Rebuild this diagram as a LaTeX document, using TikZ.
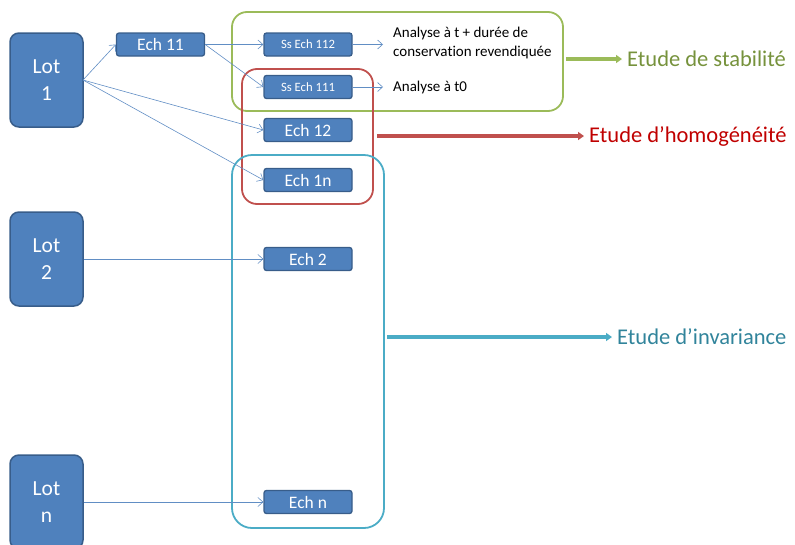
\documentclass[tikz,border=0pt]{standalone}
\usepackage{fontspec}
\setmainfont{Carlito}[Ligatures=NoCommon]
\usetikzlibrary{arrows.meta,shadows}
\definecolor{nodefill}{HTML}{4F81BD}
\definecolor{nodeborder}{HTML}{385D8A}
\definecolor{grn}{HTML}{9BBB59}
\definecolor{grntxt}{HTML}{76923C}
\definecolor{rd}{HTML}{C0504D}
\definecolor{rdtxt}{HTML}{C00000}
\definecolor{cy}{HTML}{4BACC6}
\definecolor{cytxt}{HTML}{31849B}
\tikzset{
  lotbox/.style={draw=nodeborder,line width=1.5pt,fill=nodefill,rounded corners=9pt,
    minimum width=73pt,minimum height=94pt,text=white,align=center,
    font=\fontsize{21.5}{27}\selectfont,inner sep=0pt},
  echbox/.style={draw=nodeborder,line width=1.3pt,fill=nodefill,rounded corners=2.5pt,
    minimum width=88pt,minimum height=23pt,text=white,inner sep=0pt,
    font=\fontsize{17.5}{18}\selectfont},
  ssbox/.style={echbox,font=\fontsize{12.7}{13}\selectfont},
  link/.style={draw=nodefill!90!white,line width=0.6pt,-{Straight Barb[length=5pt,width=9pt]}},
  note/.style={anchor=west,align=left,inner sep=0pt,font=\fontsize{15}{19}\selectfont},
  group/.style={line width=1.8pt,rounded corners=15pt},
  bigarrow/.style={line width=3.5pt,-{Triangle[length=6pt,width=8pt]},
    drop shadow={shadow xshift=0.8pt,shadow yshift=-1pt,opacity=0.25}},
  label/.style={anchor=west,inner sep=0pt,font=\fontsize{22.5}{24}\selectfont}
}
\begin{document}
\begin{tikzpicture}[x=1pt,y=-1pt]
\useasboundingbox (0,0) rectangle (795,544);
\begin{scope}
\clip (0,0) rectangle (795,544);
% groups
\draw[group,draw=grn] (232,12) rectangle (563,111);
\draw[group,draw=rd] (242,69) rectangle (373,204);
\draw[group,draw=cy,rounded corners=20pt] (232,155) rectangle (384,528);
% lots
\node[lotbox] (lot1) at (46.5,80) {Lot\\1};
\node[lotbox] (lot2) at (46.5,259) {Lot\\2};
\node[lotbox] (lotn) at (46.5,502) {Lot\\n};
\end{scope}
% echantillons
\node[echbox] (e11) at (160.5,44.5) {Ech 11};
\node[ssbox] (s112) at (308,44.5) {Ss Ech 112};
\node[ssbox] (s111) at (308,87) {Ss Ech 111};
\node[echbox] (e12) at (308,130) {Ech 12};
\node[echbox] (e1n) at (308,180) {Ech 1n};
\node[echbox] (e2) at (308,259) {Ech 2};
\node[echbox] (en) at (308,502) {Ech n};
% notes
\node[note] (n112) at (393,43) {Analyse à t + durée de\\conservation revendiquée};
\node[note] (n111) at (393,87) {Analyse à t0};
% links
\coordinate (l1) at (83,80);
\coordinate (t112) at (383,44.5);
\coordinate (t111) at (383,87);
\draw[link] (l1) -- (e11.west);
\draw[link] (l1) -- (e12.west);
\draw[link] (l1) -- (e1n.west);
\draw[link] (e11.east) -- (s112.west);
\draw[link] (e11.east) -- (s111.west);
\draw[link] (s112.east) -- (t112);
\draw[link] (s111.east) -- (t111);
\draw[link] (lot2.east |- e2.west) -- (e2.west);
\draw[link] (lotn.east |- en.west) -- (en.west);
% labels
\node[label,text=grntxt] (lstab) at (627,59) {Etude de stabilité};
\node[label,text=rdtxt] (lhom) at (589,136) {Etude d’homogénéité};
\node[label,text=cytxt] (linv) at (617,337) {Etude d’invariance};
\coordinate (sg) at (566,59);
\coordinate (sr) at (377,136);
\coordinate (sc) at (387,337);
\draw[bigarrow,draw=grn,fill=grn] (sg) -- ([xshift=-5pt]lstab.west);
\draw[bigarrow,draw=rd,fill=rd] (sr) -- ([xshift=-5pt]lhom.west);
\draw[bigarrow,draw=cy,fill=cy] (sc) -- ([xshift=-5pt]linv.west);
\end{tikzpicture}
\end{document}
